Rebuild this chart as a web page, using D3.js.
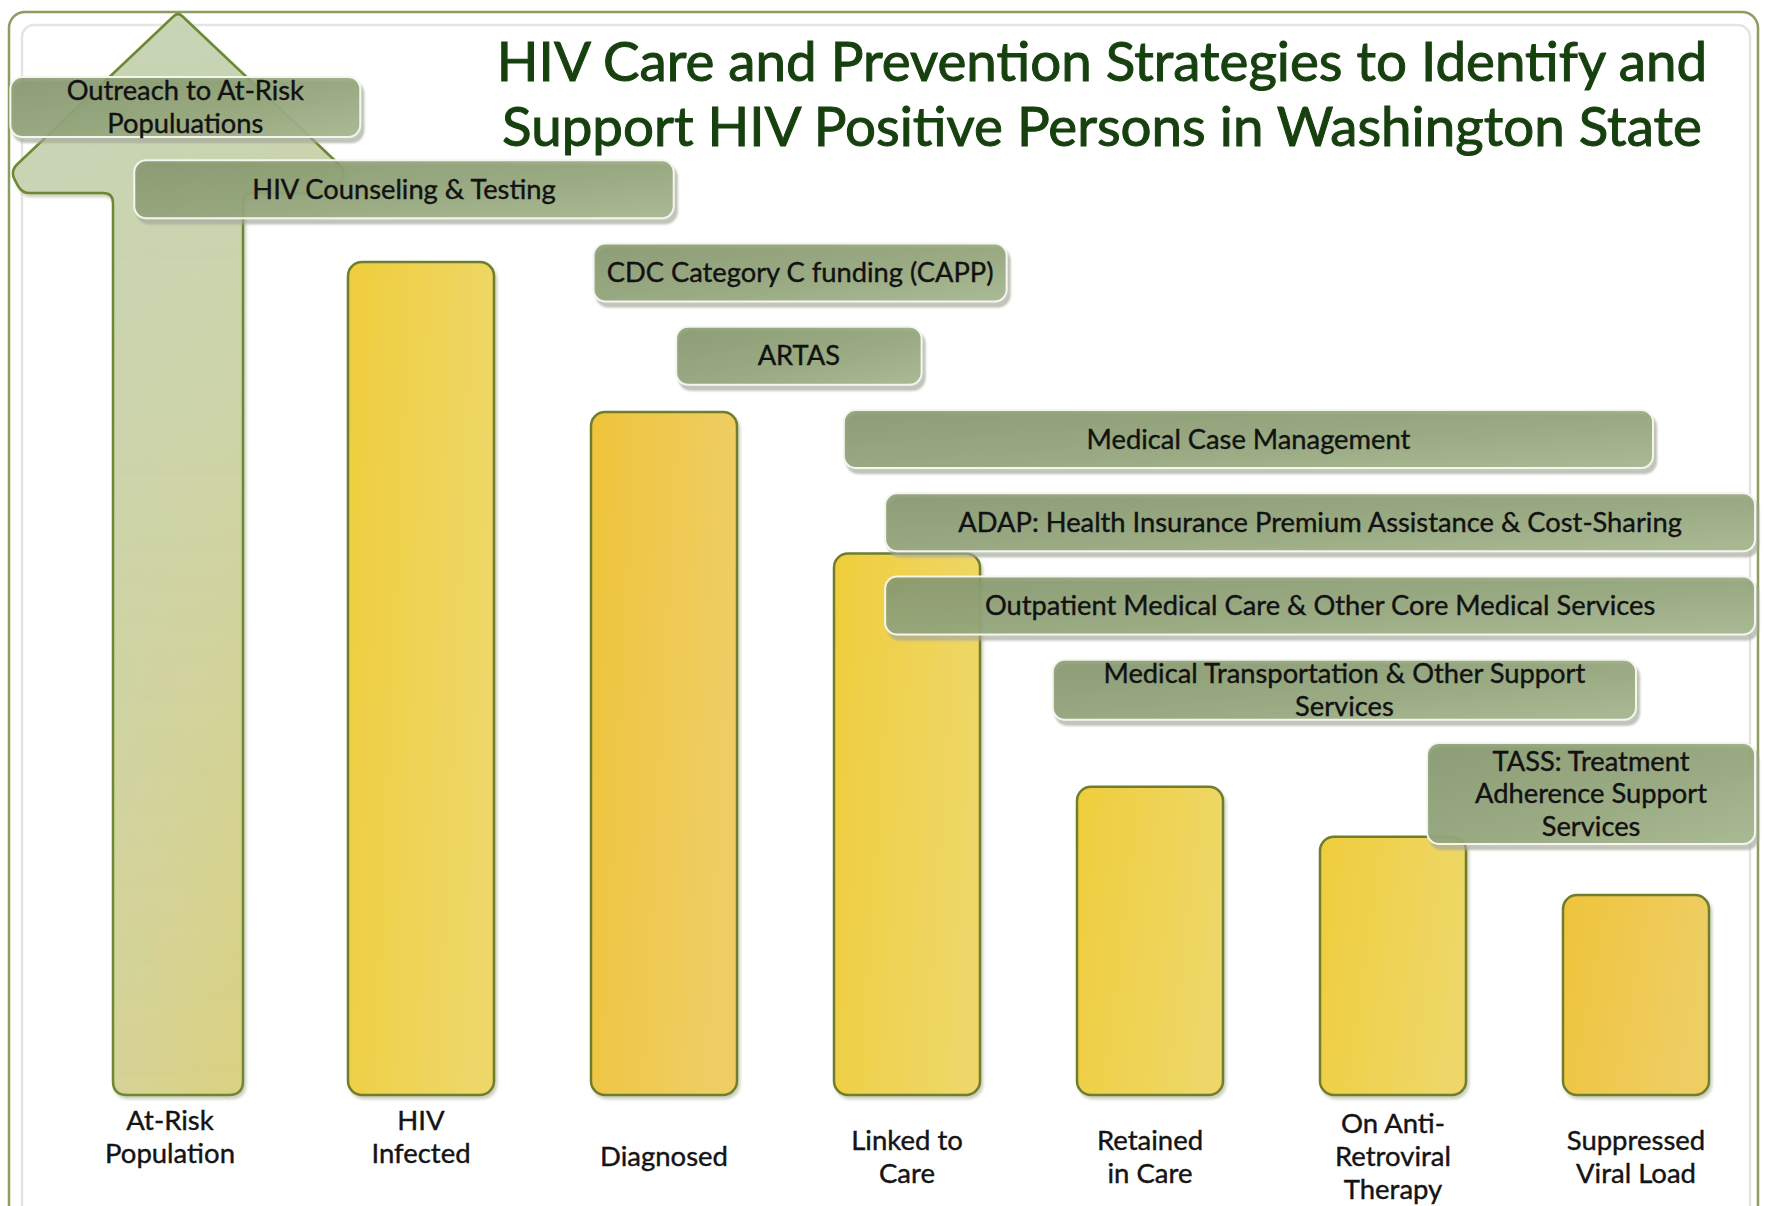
<!DOCTYPE html>
<html>
<head>
<meta charset="utf-8">
<script src="https://cdn.jsdelivr.net/npm/d3@7"></script>
<style>
  body { margin: 0; background: #fff; }
  svg { display: block; }
</style>
</head>
<body>
<svg id="chart"></svg>
<script>
// care continuum stages (bar labels) and relative bar heights (HIV infected = 100)
const stages = ["At-Risk\nPopulation", "HIV\nInfected", "Diagnosed", "Linked to\nCare",
  "Retained\nin Care", "On Anti-\nRetroviral\nTherapy", "Suppressed\nViral Load"];
const stageValues = [130, 100, 82, 65, 37, 31, 24];

// strategies and the span of stages each one covers (in stage units)
const strategies = [
  "Outreach to At-Risk\nPopuluations",
  "HIV Counseling & Testing",
  "CDC Category C funding (CAPP)",
  "ARTAS",
  "Medical Case Management",
  "ADAP: Health Insurance Premium Assistance & Cost-Sharing",
  "Outpatient Medical Care & Other Core Medical Services",
  "Medical Transportation & Other Support\nServices",
  "TASS: Treatment\nAdherence Support\nServices"
];
const strategyStart = [-0.69, -0.18, 1.71, 2.05, 2.74, 2.91, 2.91, 3.60, 5.14];
const strategyEnd   = [0.75, 2.04, 3.41, 3.06, 6.07, 6.49, 6.49, 6.00, 6.49];

const titleLines = ["HIV Care and Prevention Strategies to Identify and",
  "Support HIV Positive Persons in Washington State"];

const W = 1765, H = 1206;
const FONT = "Lato, 'Open Sans', sans-serif";

const svg = d3.select("#chart").attr("width", W).attr("height", H);
const defs = svg.append("defs");

// scales
const x = d3.scaleLinear().domain([0, stages.length - 1]).range([178, 1636]);
const y = d3.scaleLinear().domain([0, 100]).range([1095, 262]);
const row = d3.scaleLinear().domain([0, strategies.length - 1]).range([77, 743]);
const barW = 146;

// gradients
function linGrad(id, x1, y1, x2, y2, stops){
  const g = defs.append("linearGradient").attr("id", id)
    .attr("x1", x1).attr("y1", y1).attr("x2", x2).attr("y2", y2);
  stops.forEach(s => g.append("stop").attr("offset", s[0])
    .attr("stop-color", s[1]).attr("stop-opacity", s[2] == null ? 1 : s[2]));
}
linGrad("barYellow", 0, 0, 1, 0.25, [[0, "#efcd3c"], [1, "#eed767"]]);
linGrad("barOrange", 0, 0, 1, 0.25, [[0, "#efc43b"], [1, "#eece64"]]);
linGrad("arrowBase", 0, 0, 1, 0, [[0, "#d1d3a2"], [1, "#e1d068"]]);
linGrad("arrowTop", 0, 0, 0, 1, [[0, "#c6d4b7", 0.95], [0.35, "#c8d5b6", 0.75], [1, "#c8d5b6", 0]]);
linGrad("boxFill", 0, 0, 1, 1, [[0, "#83966a"], [0.55, "#92a578"], [1, "#a6b88f"]]);

const shadow = defs.append("filter").attr("id", "shadow")
  .attr("x", "-5%").attr("y", "-10%").attr("width", "115%").attr("height", "130%");
shadow.append("feDropShadow").attr("dx", 3).attr("dy", 5).attr("stdDeviation", 1.2)
  .attr("flood-color", "#a3a798").attr("flood-opacity", 0.75);
const barShadow = defs.append("filter").attr("id", "barShadow")
  .attr("x", "-10%").attr("y", "-5%").attr("width", "125%").attr("height", "110%");
barShadow.append("feDropShadow").attr("dx", 2).attr("dy", 3).attr("stdDeviation", 1.5)
  .attr("flood-color", "#9aa07a").attr("flood-opacity", 0.5);

// frame
svg.append("rect").attr("x", 9).attr("y", 12).attr("width", 1749).attr("height", 1280)
  .attr("rx", 16).attr("fill", "#fff").attr("stroke", "#8c9d5f").attr("stroke-width", 2.5);
svg.append("rect").attr("x", 22).attr("y", 25).attr("width", 1728).attr("height", 1260)
  .attr("rx", 12).attr("fill", "none").attr("stroke", "#e3e5e1").attr("stroke-width", 2.5);

// title
const title = svg.append("text").attr("font-family", FONT).attr("font-size", 54.7)
  .attr("fill", "#17400f").attr("stroke", "#17400f").attr("stroke-width", 1)
  .attr("text-anchor", "middle");
title.selectAll("tspan").data(titleLines).join("tspan")
  .attr("x", 1102).attr("y", (d, i) => 81 + i * 65).text(d => d);

// polygon with rounded corners
function roundedPath(pts, radii){
  const p = d3.path();
  const n = pts.length;
  pts.forEach((v, i) => {
    const a = pts[(i - 1 + n) % n], b = pts[(i + 1) % n], r = radii[i];
    const d1 = Math.hypot(a[0] - v[0], a[1] - v[1]), d2 = Math.hypot(b[0] - v[0], b[1] - v[1]);
    const s = [v[0] + (a[0] - v[0]) * r / d1, v[1] + (a[1] - v[1]) * r / d1];
    const e = [v[0] + (b[0] - v[0]) * r / d2, v[1] + (b[1] - v[1]) * r / d2];
    if (i === 0) p.moveTo(s[0], s[1]); else p.lineTo(s[0], s[1]);
    p.quadraticCurveTo(v[0], v[1], e[0], e[1]);
  });
  p.closePath();
  return p.toString();
}

// first stage drawn as an upward arrow
const cx0 = x(0), tipY = y(stageValues[0]), base = tipY + 181, hh = 168, hs = 65, bot = y(0);
const arrowD = roundedPath([
  [cx0, tipY], [cx0 + hh, base - 22], [cx0 + hh - 12, base], [cx0 + hs, base], [cx0 + hs, bot],
  [cx0 - hs, bot], [cx0 - hs, base], [cx0 - hh + 12, base], [cx0 - hh, base - 22]
], [6, 10, 8, 10, 14, 14, 10, 8, 10]);
const arrow = svg.append("g").attr("filter", "url(#barShadow)");
arrow.append("path").attr("d", arrowD).attr("fill", "url(#arrowBase)").attr("opacity", 0.9);
arrow.append("path").attr("d", arrowD).attr("fill", "url(#arrowTop)")
  .attr("stroke", "#6c8833").attr("stroke-width", 2.5);

// remaining stages as rounded bars
const warm = new Set([2, 6]);
svg.append("g").selectAll("rect")
  .data(stageValues.map((v, i) => ({v, i})).filter(d => d.i > 0))
  .join("rect")
  .attr("x", d => x(d.i) - barW / 2)
  .attr("y", d => y(d.v))
  .attr("width", barW)
  .attr("height", d => y(0) - y(d.v))
  .attr("rx", 14)
  .attr("fill", d => warm.has(d.i) ? "url(#barOrange)" : "url(#barYellow)")
  .attr("stroke", "#6f7d2c").attr("stroke-width", 2.5)
  .attr("filter", "url(#barShadow)");

// stage labels
const lblLine = 33;
svg.append("g").attr("font-family", FONT).attr("font-size", 27.5).attr("fill", "#141414")
  .attr("stroke", "#141414").attr("stroke-width", 0.4)
  .attr("text-anchor", "middle")
  .selectAll("text").data(stages).join("text")
  .each(function(d, i){
    const lines = d.split("\n");
    const mid = i < 2 ? 1136 : 1156;
    const y0 = mid - (lines.length - 1) * lblLine / 2 + 10;
    d3.select(this).selectAll("tspan").data(lines).join("tspan")
      .attr("x", x(i) - (i === 0 ? 8 : 0)).attr("y", (l, k) => y0 + k * lblLine).text(l => l);
  });

// strategy boxes
const boxH = [0, 58, 60, 101];
const boxes = svg.append("g").selectAll("g")
  .data(strategies.map((s, i) => ({s, i, lines: s.split("\n")})))
  .join("g");
boxes.append("rect")
  .attr("x", d => x(strategyStart[d.i]))
  .attr("y", d => row(d.i))
  .attr("width", d => x(strategyEnd[d.i]) - x(strategyStart[d.i]))
  .attr("height", d => boxH[d.lines.length])
  .attr("rx", 12)
  .attr("fill", "url(#boxFill)").attr("fill-opacity", 0.86)
  .attr("stroke", "#f3f5ee").attr("stroke-width", 2)
  .attr("filter", "url(#shadow)");
boxes.append("text")
  .attr("font-family", FONT).attr("font-size", 27.3).attr("fill", "#121212")
  .attr("stroke", "#121212").attr("stroke-width", 0.4)
  .attr("text-anchor", "middle")
  .each(function(d){
    const cx = (x(strategyStart[d.i]) + x(strategyEnd[d.i])) / 2;
    const cy = row(d.i) + boxH[d.lines.length] / 2;
    const y0 = cy - (d.lines.length - 1) * 32.5 / 2 + 9.5;
    d3.select(this).selectAll("tspan").data(d.lines).join("tspan")
      .attr("x", cx).attr("y", (l, k) => y0 + k * 32.5).text(l => l);
  });
</script>
</body>
</html>
